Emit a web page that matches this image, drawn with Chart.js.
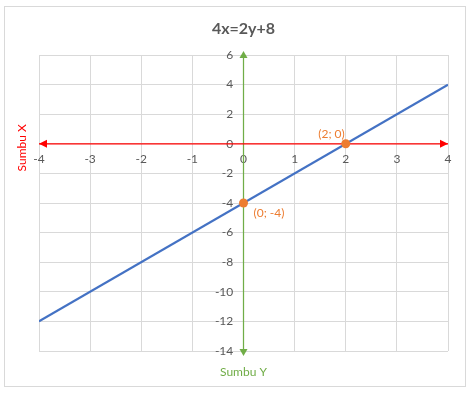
<!DOCTYPE html>
<html><head><meta charset="utf-8">
<script src="https://cdn.jsdelivr.net/npm/chart.js@4"></script>
<style>html,body{margin:0;padding:0;background:#fff}#wrap{width:470px;height:393px;position:relative}</style>
</head><body><div id="wrap"><canvas id="c"></canvas></div>
<script>
const chartTitle = '4x=2y+8';
const xAxisTitle = 'Sumbu X';
const yAxisTitle = 'Sumbu Y';
const lineX = [-4, 4];
const lineY = [-12, 4];
const pointX = [2, 0];
const pointY = [0, -4];
const pointLabels = ['(2; 0)', '(0; -4)'];
const xRange = [-4, 4];
const yRange = [-14, 6];
const xTicks = [-4, -3, -2, -1, 0, 1, 2, 3, 4];
const yTicks = [-14, -12, -10, -8, -6, -4, -2, 0, 2, 4, 6];

const FONT = 'Lato, "Open Sans", sans-serif';
Chart.defaults.font.family = FONT;

const RED = '#FF0000', GREEN = '#70AD47', BLUE = '#4472C4', ORANGE = '#ED7D31', GRID = '#D9D9D9', TXT = '#595959';

function arrow(ctx, tx, ty, dx, dy, len, half, color) {
  const bx = tx - dx * len, by = ty - dy * len;
  ctx.beginPath();
  ctx.moveTo(tx, ty);
  ctx.lineTo(bx - dy * half, by + dx * half);
  ctx.lineTo(bx + dy * half, by - dx * half);
  ctx.closePath();
  ctx.fillStyle = color;
  ctx.fill();
}

const decor = {
  id: 'decor',
  beforeDraw(chart) {
    const ctx = chart.ctx;
    ctx.save();
    ctx.fillStyle = '#fff';
    ctx.fillRect(0, 0, chart.width, chart.height);
    ctx.strokeStyle = GRID;
    ctx.lineWidth = 1;
    ctx.strokeRect(4.5, 6.5, 461, 380);
    ctx.restore();
  },
  afterDatasetsDraw(chart) {
    const ctx = chart.ctx, sx = chart.scales.x, sy = chart.scales.y;
    ctx.save();
    const y0 = sy.getPixelForValue(0), x0 = sx.getPixelForValue(0);
    arrow(ctx, sx.getPixelForValue(xRange[0]), y0, -1, 0, 8, 4, RED);
    arrow(ctx, sx.getPixelForValue(xRange[1]), y0, 1, 0, 8, 4, RED);
    arrow(ctx, x0, sy.getPixelForValue(yRange[1]) - 4, 0, -1, 7, 4, GREEN);
    arrow(ctx, x0, sy.getPixelForValue(yRange[0]) + 5, 0, 1, 7, 4, GREEN);
    // point labels
    ctx.font = '12px ' + FONT;
    ctx.fillStyle = ORANGE;
    ctx.textBaseline = 'middle';
    const offs = [[-1, -10, 'right'], [10, 10, 'left']];
    pointLabels.forEach((t, i) => {
      const px = sx.getPixelForValue(pointX[i]), py = sy.getPixelForValue(pointY[i]);
      ctx.textAlign = offs[i][2];
      ctx.fillText(t, px + offs[i][0], py + offs[i][1]);
    });
    // axis titles
    ctx.font = '12px ' + FONT;
    ctx.fillStyle = RED;
    ctx.textAlign = 'center';
    ctx.save();
    ctx.translate(22, y0 + 4);
    ctx.rotate(-Math.PI / 2);
    ctx.fillText(xAxisTitle, 0, 0);
    ctx.restore();
    ctx.fillStyle = GREEN;
    ctx.fillText(yAxisTitle, x0, chart.chartArea.bottom + 21);
    ctx.restore();
  }
};

new Chart(document.getElementById('c'), {
  type: 'scatter',
  data: {
    datasets: [
      { label: 'Titik', data: pointX.map((x, i) => ({x, y: pointY[i]})), pointRadius: 4.5, pointHoverRadius: 4.5,
        backgroundColor: ORANGE, borderColor: ORANGE, borderWidth: 0, showLine: false, order: 0 },
      { label: chartTitle, data: lineX.map((x, i) => ({x, y: lineY[i]})), showLine: true, borderColor: BLUE,
        borderWidth: 2.25, pointRadius: 0, order: 1 },
      { label: xAxisTitle, data: xRange.map(x => ({x, y: 0})), showLine: true, borderColor: RED,
        borderWidth: 1.25, pointRadius: 0, order: 2 },
      { label: yAxisTitle, data: yRange.map(y => ({x: 0, y})), showLine: true, borderColor: GREEN,
        borderWidth: 1.25, pointRadius: 0, order: 3 }
    ]
  },
  options: {
    responsive: true,
    maintainAspectRatio: false,
    animation: false,
    layout: { padding: { left: 39, right: 22, top: 0, bottom: 42 } },
    plugins: {
      legend: { display: false },
      tooltip: { enabled: false },
      title: { display: true, text: chartTitle, color: TXT, font: { size: 16, weight: 'bold', family: FONT, lineHeight: 1.2 },
        padding: { top: 19, bottom: 16.8 } }
    },
    scales: {
      x: {
        type: 'linear', min: xRange[0], max: xRange[1], position: { y: 0 },
        afterBuildTicks: s => { s.ticks = xTicks.map(v => ({ value: v })); },
        grid: { color: GRID, drawTicks: false },
        border: { display: false },
        ticks: { color: TXT, font: { size: 12 }, padding: 8, maxRotation: 0, autoSkip: false }
      },
      y: {
        type: 'linear', min: yRange[0], max: yRange[1], position: { x: -0.2 },
        afterBuildTicks: s => { s.ticks = yTicks.map(v => ({ value: v })); },
        grid: { color: GRID, drawTicks: false },
        border: { display: false },
        ticks: { color: TXT, font: { size: 12 }, padding: 0, autoSkip: false }
      }
    }
  },
  plugins: [decor]
});
</script></body></html>
